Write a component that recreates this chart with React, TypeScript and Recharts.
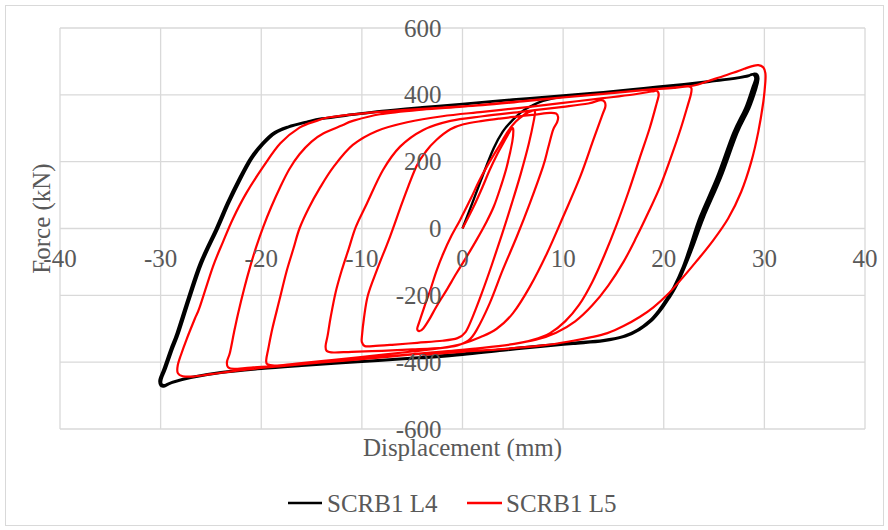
import React from "react";
import { LineChart, Line, XAxis, YAxis, CartesianGrid } from "recharts";

// tick values
const X_TICKS = [-40, -30, -20, -10, 0, 10, 20, 30, 40];
const Y_TICKS = [-600, -400, -200, 0, 200, 400, 600];

// SCRB1 L4 : [displacement mm, force kN]
const L4_FIRST_LOAD = [
  [0, 0], [1, 78], [2, 158], [3.1, 240], [4, 290], [5, 325], [6, 352], [6.8, 366], [8, 382], [10, 395],
  [14, 406], [18, 418], [22, 430], [25, 441], [27.5, 451], [28.4, 456],
];
const L4_CYCLE_1 = [
  [28.7, 461], [29.0, 458], [29.1, 446], [28.8, 420],
  [28.1, 360], [26.9, 285], [25.3, 154], [23.6, 35], [22.6, -55], [21.9, -115], [21.0, -175], [20.3, -210],
  [19.5, -245], [18.6, -276], [17.4, -303], [16, -322], [14, -334], [11, -342], [8, -350], [4, -362],
  [0, -375], [-4, -385], [-8, -393], [-12, -401], [-16, -409], [-20, -418], [-24, -430], [-27, -445], [-28.8, -459],
  [-29.5, -468], [-29.9, -466], [-29.9, -450], [-29.5, -420],
  [-28.8, -360], [-28.2, -313], [-27.1, -210], [-25.9, -104], [-24.3, 0], [-23.2, 76], [-22.0, 150], [-20.9, 210],
  [-19.8, 252], [-18.6, 285], [-17.2, 304], [-15.5, 318], [-14, 328], [-11, 340], [-8, 351], [-4, 362],
  [0, 372], [5, 385], [10, 397], [14, 407], [18, 419], [22, 431], [25, 441], [27.5, 451], [28.5, 458],
];
const L4_CYCLE_2 = [
  [28.9, 462], [29.2, 459], [29.3, 446], [29.0, 420],
  [28.3, 360], [27.1, 285], [25.5, 154], [23.8, 35], [22.8, -55], [22.0, -115], [21.1, -175], [20.4, -210],
  [19.6, -245], [18.7, -276], [17.5, -303], [16.1, -323], [14, -336], [11, -344], [8, -352], [4, -364],
  [0, -377], [-4, -387], [-8, -395], [-12, -403], [-16, -411], [-20, -420], [-24, -432], [-27, -447], [-28.9, -462],
  [-29.6, -472], [-30.0, -470], [-30.1, -452], [-29.7, -420],
  [-29.0, -360], [-28.4, -313], [-27.3, -210], [-26.1, -104], [-24.5, 0], [-23.4, 76], [-22.2, 150], [-21.1, 210],
  [-20.0, 252], [-18.8, 286], [-17.3, 305], [-15.5, 319], [-14, 329], [-11, 341], [-8, 352], [-4, 363],
  [0, 373], [5, 386], [10, 398], [14, 408], [18, 420], [22, 432], [25, 442], [27.5, 452], [28.6, 459],
];
const L4_LAST_UNLOAD = [
  [29.0, 463], [29.3, 460], [29.4, 447], [29.2, 420],
  [28.5, 360], [27.3, 285], [25.7, 154], [24.0, 35], [22.9, -55], [22.1, -115], [21.2, -175], [20.5, -210],
  [19.7, -245], [18.8, -276], [17.6, -303], [16.2, -323], [14, -337], [11, -345], [8, -353], [4, -365],
  [0, -378], [-4, -388],
];

// SCRB1 L5 : [displacement mm, force kN]
const L5_START = [[0, 0], [1.1, 65], [2.0, 125], [2.7, 175], [3.5, 225], [4.1, 258], [4.6, 285], [4.9, 300]];
const L5_DOWN_5 = [
  [5.05, 295], [4.95, 260], [4.4, 185], [3.8, 125], [3.1, 65], [2.3, 15], [1.4, -34], [0.4, -85], [-0.6, -134],
  [-1.6, -185], [-2.6, -234], [-3.3, -272], [-3.9, -299], [-4.3, -307], [-4.5, -300],
];
const L5_UP_5 = [
  [-4.3, -280], [-3.8, -235], [-3.2, -184], [-2.6, -128], [-1.9, -74], [-1.1, -22], [-0.25, 25], [0.8, 88],
  [1.7, 145], [2.7, 200], [3.7, 250], [4.5, 290], [5.3, 320], [6.2, 342], [6.9, 352],
];
const L5_DOWN_10 = [
  [7.2, 350], [7.1, 325], [6.6, 255], [5.8, 165], [4.9, 75], [3.9, -20], [2.9, -110], [1.9, -195], [1.0, -265],
  [0.3, -310], [-0.5, -328], [-2, -336], [-4.5, -342], [-7, -348], [-8.9, -352], [-9.7, -352], [-10.0, -340],
];
const L5_UP_10 = [
  [-10.0, -324], [-9.8, -270], [-9.4, -200], [-8.5, -124], [-7.2, -24], [-5.9, 85], [-4.6, 185], [-3.6, 232],
  [-2.6, 265], [-1.2, 297], [0.1, 312], [2.0, 322], [3.7, 329], [5.4, 335], [7.2, 341], [8.7, 346], [9.3, 344], [9.5, 333],
];
const L5_DOWN_15 = [
  [9.4, 318], [9.0, 295], [8.5, 240], [8.0, 185], [6.7, 76], [5.4, -24], [4.0, -124], [2.7, -224], [1.4, -304],
  [0.6, -335], [-0.5, -350], [-2, -357], [-5, -362], [-8, -366], [-11, -369], [-12.8, -371], [-13.5, -366], [-13.6, -350],
];
const L5_UP_15 = [
  [-13.4, -320], [-13.1, -265], [-12.6, -190], [-12.0, -125], [-11.3, -60], [-10.6, 5], [-9.5, 75], [-7.9, 175],
  [-6.2, 245], [-3.9, 295], [-1.2, 322], [2, 336], [6, 350], [10, 364], [12.5, 374], [13.7, 384], [14.1, 380], [14.2, 365],
];
const L5_DOWN_20 = [
  [13.9, 340], [13.0, 265], [11.7, 155], [10.0, 35], [8.4, -74], [6.7, -174], [5.0, -254], [3.4, -300], [1.8, -325],
  [0, -345], [-2, -357], [-5, -368], [-9, -381], [-13, -394], [-16.5, -404], [-18.6, -410], [-19.4, -406], [-19.5, -392],
];
const L5_UP_20 = [
  [-19.3, -360], [-18.9, -300], [-18.2, -215], [-17.5, -130], [-16.8, -60], [-16.2, 0], [-15.3, 60], [-14.2, 120],
  [-12.8, 185], [-10.9, 250], [-8.5, 292], [-5.5, 318], [-2, 336], [2, 349], [6, 362], [10, 376], [14, 390],
  [17, 401], [18.8, 410], [19.3, 412], [19.5, 400],
];
const L5_DOWN_25 = [
  [19.3, 375], [18.6, 300], [17.6, 210], [16.5, 110], [15.3, 10], [14.1, -80], [12.9, -160], [11.6, -228],
  [10.2, -278], [8.7, -313], [7, -333], [5, -346], [2, -357], [-2, -368], [-6, -379], [-10, -389], [-14, -400],
  [-18, -410], [-21, -416], [-22.7, -420], [-23.3, -415], [-23.4, -398],
];
const L5_UP_25 = [
  [-23.1, -370], [-22.7, -310], [-22.3, -254], [-21.7, -180], [-21.1, -114], [-20.5, -55], [-19.8, 5], [-19.0, 65],
  [-18.1, 125], [-17.2, 178], [-16.2, 222], [-15, 260], [-13.8, 285], [-12, 308], [-10.9, 322], [-8.2, 342],
  [-4, 356], [0, 365], [4, 376], [8, 387], [12, 398], [16, 409], [19, 417], [21.5, 423], [22.4, 426], [22.75, 420], [22.7, 402],
];
const L5_DOWN_30 = [
  [22.4, 370], [21.7, 300], [20.8, 220], [19.7, 130], [18.5, 50], [17.3, -25], [16.0, -100], [14.5, -170],
  [12.9, -230], [11.2, -278], [9.3, -312], [7.3, -333], [5, -346], [2, -357], [-2, -369], [-6, -380], [-10, -391],
  [-14, -401], [-18, -412], [-22, -424], [-25, -436], [-26.8, -443], [-27.8, -442], [-28.3, -432], [-28.3, -410],
];
const L5_UP_30 = [
  [-28.0, -380], [-27.4, -330], [-26.6, -270], [-26.1, -234], [-24.8, -114], [-23.8, -40], [-22.8, 30], [-21.5, 105],
  [-19.8, 185], [-18.1, 255], [-16.2, 302], [-14.5, 322], [-13.2, 333], [-10, 344], [-6, 354], [-2, 362], [2, 369],
  [6, 380], [10, 392], [14, 403], [18, 414], [21, 421], [23, 428], [24.3, 440], [25.5, 452], [26.9, 466], [28, 478],
  [28.8, 486], [29.4, 489], [29.9, 482], [30.1, 465], [30.1, 440],
];
const L5_LAST_UNLOAD = [
  [29.9, 380], [29.4, 290], [28.7, 200], [27.7, 110], [26.4, 30], [24.8, -40], [23.2, -100], [21.8, -150],
  [20.3, -200], [19.0, -235], [17.6, -265], [16, -292], [14.4, -313], [12.7, -326], [11, -336], [8, -350],
  [4, -361], [0, -369], [-4, -378],
];

const toPoints = (rows: number[][]) => rows.map(([x, y]) => ({ x, y }));

const L4_DATA = toPoints([...L4_FIRST_LOAD, ...L4_CYCLE_1, ...L4_CYCLE_2, ...L4_LAST_UNLOAD]);
const L5_DATA = toPoints([
  ...L5_START, ...L5_DOWN_5, ...L5_UP_5, ...L5_DOWN_10, ...L5_UP_10, ...L5_DOWN_15, ...L5_UP_15,
  ...L5_DOWN_20, ...L5_UP_20, ...L5_DOWN_25, ...L5_UP_25, ...L5_DOWN_30, ...L5_UP_30, ...L5_LAST_UNLOAD,
]);

// Catmull-Rom smoothing that passes through every point (works on loops, unlike monotone)
function catmullRom(context: any) {
  let pts: [number, number][] = [];
  return {
    areaStart() {},
    areaEnd() {},
    lineStart() {
      pts = [];
    },
    point(x: number, y: number) {
      pts.push([+x, +y]);
    },
    lineEnd() {
      if (!pts.length) return;
      context.moveTo(pts[0][0], pts[0][1]);
      for (let i = 0; i < pts.length - 1; i++) {
        const p0 = pts[i - 1] || pts[i];
        const p1 = pts[i];
        const p2 = pts[i + 1];
        const p3 = pts[i + 2] || p2;
        context.bezierCurveTo(
          p1[0] + (p2[0] - p0[0]) / 6, p1[1] + (p2[1] - p0[1]) / 6,
          p2[0] - (p3[0] - p1[0]) / 6, p2[1] - (p3[1] - p1[1]) / 6,
          p2[0], p2[1],
        );
      }
    },
  };
}

const W = 888;
const H = 530;
const M = { top: 28, right: 23, bottom: 71, left: 0 };
const PLOT_LEFT = 60;
const PLOT_BOTTOM = H - M.bottom - 30;
const ZERO_X = PLOT_LEFT + (W - PLOT_LEFT - M.right) / 2;
const ZERO_Y = M.top + (PLOT_BOTTOM - M.top) / 2;

const FONT = "'Liberation Serif', 'Times New Roman', serif";
const TEXT = "#595959";

function XTick({ x, payload }: any) {
  return (
    <text x={x} y={ZERO_Y + 30} textAnchor="middle" dominantBaseline="central" fontFamily={FONT} fontSize={25} fill={TEXT}>
      {payload.value}
    </text>
  );
}

function YTick({ y, payload }: any) {
  return (
    <text x={ZERO_X - 21} y={y} textAnchor="end" dominantBaseline="central" fontFamily={FONT} fontSize={25} fill={TEXT}>
      {payload.value}
    </text>
  );
}

export default function App() {
  return (
    <div style={{ position: "absolute", left: 0, top: 0, width: W, height: H, background: "#fff" }}>
      <div style={{ position: "absolute", left: 5, top: 5, width: 877, height: 519, border: "1px solid #d9d9d9" }} />
      <div style={{ position: "absolute", left: 0, top: 0 }}>
        <LineChart width={W} height={H} margin={M}>
          <CartesianGrid stroke="#d9d9d9" strokeWidth={1.3} />
          <XAxis
            type="number"
            dataKey="x"
            domain={[-40, 40]}
            ticks={X_TICKS}
            allowDataOverflow
            axisLine={false}
            tickLine={false}
            height={30}
            tick={<XTick />}
          />
          <YAxis
            type="number"
            dataKey="y"
            domain={[-600, 600]}
            ticks={Y_TICKS}
            allowDataOverflow
            axisLine={false}
            tickLine={false}
            width={PLOT_LEFT}
            tick={<YTick />}
          />
          <Line data={L4_DATA} dataKey="y" type={catmullRom as any} stroke="#000000" strokeWidth={2.4} dot={false} activeDot={false} isAnimationActive={false} />
          <Line data={L5_DATA} dataKey="y" type={catmullRom as any} stroke="#ff0000" strokeWidth={2.2} dot={false} activeDot={false} isAnimationActive={false} />
        </LineChart>
      </div>
      <svg width={W} height={H} style={{ position: "absolute", left: 0, top: 0, pointerEvents: "none" }}>
        <text x={ZERO_X} y={456} textAnchor="middle" fontFamily={FONT} fontSize={25} fill={TEXT}>
          Displacement (mm)
        </text>
        <text
          x={0}
          y={0}
          transform={`translate(50, ${ZERO_Y - 10}) rotate(-90)`}
          textAnchor="middle"
          fontFamily={FONT}
          fontSize={25}
          fill={TEXT}
        >
          Force (kN)
        </text>
        <line x1={288} x2={322} y1={503} y2={503} stroke="#000000" strokeWidth={2.5} />
        <text x={327} y={512} fontFamily={FONT} fontSize={25} fill={TEXT}>SCRB1 L4</text>
        <line x1={467} x2={502} y1={503} y2={503} stroke="#ff0000" strokeWidth={2.5} />
        <text x={506} y={512} fontFamily={FONT} fontSize={25} fill={TEXT}>SCRB1 L5</text>
      </svg>
    </div>
  );
}
